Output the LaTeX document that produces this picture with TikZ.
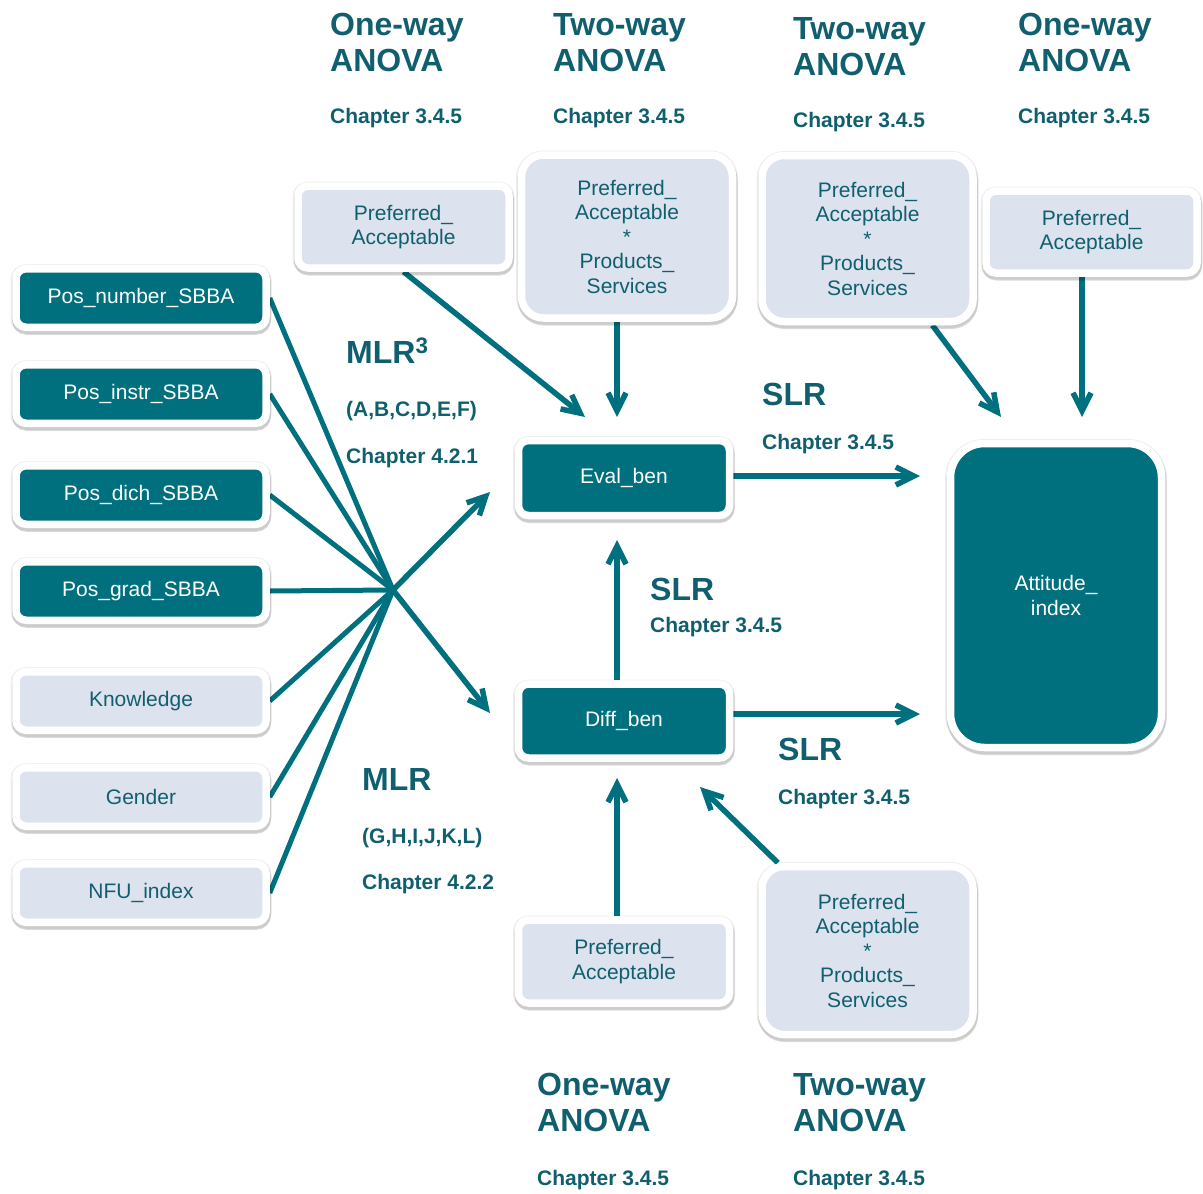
\documentclass[tikz,border=0pt]{standalone}
\usepackage{fontspec}
\setmainfont{Liberation Sans}
\usetikzlibrary{arrows.meta, positioning, shadows, backgrounds, calc}
\definecolor{tealbox}{RGB}{0,112,126}
\definecolor{palebox}{RGB}{220,226,238}
\definecolor{ink}{RGB}{16,95,110}

\begin{document}
\begin{tikzpicture}[
    x=1pt, y=-1pt,
    box/.style={rectangle, rounded corners=10pt, draw=white, line width=7.5pt, fill=tealbox, text=white, align=center, inner sep=0pt, font=\fontsize{21}{24.5}\selectfont,
        drop shadow={shadow xshift=0pt, shadow yshift=-1pt, opacity=0.07, fill=black, draw=black, line width=11pt},
        drop shadow={shadow xshift=0.5pt, shadow yshift=-3pt, opacity=0.14, fill=black, draw=black, line width=9pt}},
    pale/.style={box, fill=palebox, text=ink},
    varbox/.style={minimum width=250pt, minimum height=58.5pt},
    flat/.style={minimum width=211pt, minimum height=82pt},
    tall/.style={minimum width=211pt, minimum height=166pt, rounded corners=22pt},
    heading/.style={font=\fontsize{32}{36}\selectfont\bfseries, text=ink, inner sep=0pt, align=left, anchor=north west},
    method/.style={font=\fontsize{32}{36}\selectfont\bfseries, text=ink, inner sep=0pt, anchor=base west},
    note/.style={font=\fontsize{21}{24}\selectfont\bfseries, text=ink, inner sep=0pt, anchor=base west},
    link/.style={line width=5pt, tealbox},
    arrow/.style={-{Straight Barb[length=18pt, width=18pt]}, line width=5.5pt, tealbox},
]
\useasboundingbox (0,0) rectangle (1203,1194);

% Predictors
\node[box, varbox] (pnum) at (141,298) {Pos\_number\_SBBA};
\node[box, varbox] (pinstr) at (141,394) {Pos\_instr\_SBBA};
\node[box, varbox] (pdich) at (141,495) {Pos\_dich\_SBBA};
\node[box, varbox] (pgrad) at (141,591) {Pos\_grad\_SBBA};
\node[pale, varbox] (know) at (141,701) {Knowledge};
\node[pale, varbox] (gender) at (141,797) {Gender};
\node[pale, varbox] (nfu) at (141,893) {NFU\_index};

% Top moderators
\node[pale, flat] (tpa) at (403.5,227) {Preferred\_\\Acceptable};
\node[pale, tall, minimum height=163pt] (tps) at (627,236.5) {Preferred\_\\Acceptable\\*\\Products\_\\Services};
\node[pale, tall] (tpsr) at (867.5,238.5) {Preferred\_\\Acceptable\\*\\Products\_\\Services};
\node[pale, flat] (tpar) at (1091.5,232) {Preferred\_\\Acceptable};

% Benefits
\node[box, minimum width=211pt, minimum height=75pt] (eval) at (624,478) {Eval\_ben};
\node[box, minimum width=211pt, minimum height=74pt] (diff) at (624,721) {Diff\_ben};

% Outcome
\node[box, minimum width=211pt, minimum height=304pt, rounded corners=34pt] (att) at (1056,595.5) {Attitude\_\\index};

% Bottom moderators
\node[pale, flat, minimum height=83pt] (bpa) at (624,961.5) {Preferred\_\\Acceptable};
\node[pale, tall, minimum height=168pt] (bps) at (867.5,950.5) {Preferred\_\\Acceptable\\*\\Products\_\\Services};

% Arrow ends
\coordinate (hub) at (393,590);
\coordinate (toeval) at (490,492);
\coordinate (todiff) at (490,713);
\coordinate (tpatip) at (585,417);
\coordinate (tpstip) at (617,417);
\coordinate (tpsrtip) at (1001,417);
\coordinate (tpartip) at (1082,417);
\coordinate (evaltip) at (920,476);
\coordinate (difftip) at (920,714);
\coordinate (uptip) at (617,540);
\coordinate (bpatip) at (617,778);
\coordinate (bpstip) at (700,787);

% Connectors
\begin{scope}[on background layer]
\foreach \src in {pnum, pinstr, pdich, pgrad, know, gender, nfu}
    \draw[link] (\src.east) -- (hub);
\draw[arrow] (hub) -- (toeval);
\draw[arrow] (hub) -- (todiff);
\draw[arrow] (tpa.south) -- (tpatip);
\draw[arrow] (tps.south -| tpstip) -- (tpstip);
\draw[arrow] (tpsr) -- (tpsrtip);
\draw[arrow] (tpar.south -| tpartip) -- (tpartip);
\draw[arrow] (eval.east |- evaltip) -- (evaltip);
\draw[arrow] (diff.east |- difftip) -- (difftip);
\draw[arrow] (diff.north -| uptip) -- (uptip);
\draw[arrow] (bpa.north -| bpatip) -- (bpatip);
\draw[arrow] (bps) -- (bpstip);
\end{scope}

% Headings
\node[heading] (h1) at (330,13) {One-way\\ANOVA};
\node[note] (c1) at (330,123) {Chapter 3.4.5};
\node[heading] (h2) at (553,13) {Two-way\\ANOVA};
\node[note] (c2) at (553,123) {Chapter 3.4.5};
\node[heading] (h3) at (793,17) {Two-way\\ANOVA};
\node[note] (c3) at (793,127) {Chapter 3.4.5};
\node[heading] (h4) at (1018,13) {One-way\\ANOVA};
\node[note] (c4) at (1018,123) {Chapter 3.4.5};
\node[heading] (h5) at (537,1073) {One-way\\ANOVA};
\node[note] (c5) at (537,1185) {Chapter 3.4.5};
\node[heading] (h6) at (793,1073) {Two-way\\ANOVA};
\node[note] (c6) at (793,1185) {Chapter 3.4.5};

% Regression labels
\node[method] (mlra) at (346,363) {MLR\textsuperscript{3}};
\node[note] (mlravars) at (346,416) {(A,B,C,D,E,F)};
\node[note] (mlrach) at (346,463) {Chapter 4.2.1};
\node[method] (mlrb) at (362,790) {MLR};
\node[note] (mlrbvars) at (362,843) {(G,H,I,J,K,L)};
\node[note] (mlrbch) at (362,889) {Chapter 4.2.2};
\node[method] (slra) at (762,405) {SLR};
\node[note] (slrach) at (762,449) {Chapter 3.4.5};
\node[method] (slrb) at (650,600) {SLR};
\node[note] (slrbch) at (650,632) {Chapter 3.4.5};
\node[method] (slrc) at (778,760) {SLR};
\node[note] (slrcch) at (778,804) {Chapter 3.4.5};

\end{tikzpicture}
\end{document}
